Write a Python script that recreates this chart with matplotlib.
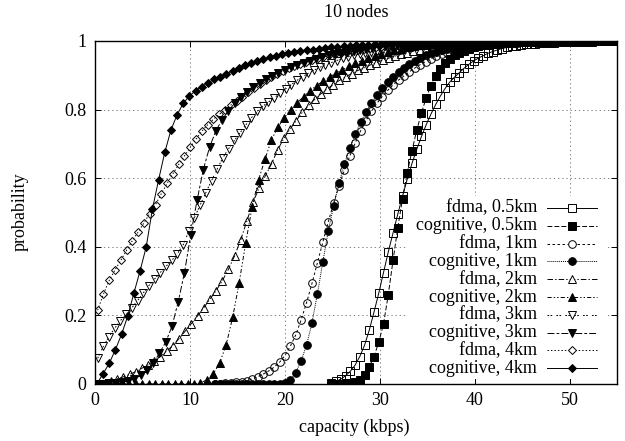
import matplotlib
matplotlib.use("Agg")
import matplotlib.pyplot as plt
from matplotlib.patches import Rectangle

plt.rcParams['font.family'] = ['Liberation Serif', 'DejaVu Serif']
plt.rcParams['lines.scale_dashes'] = False

# ---------------- data ----------------
x_fdma_05 = [24.9, 25.4, 25.9, 26.4, 26.9, 27.4, 27.9, 28.4, 28.9, 29.4, 29.9, 30.4, 30.9, 31.4,
             31.9, 32.4, 32.9, 33.4, 33.9, 34.4, 34.9, 35.4, 35.9, 36.4, 36.9, 37.4, 37.9, 38.4,
             38.9, 39.4, 39.9, 40.4, 40.9, 41.4, 41.9, 42.4, 42.9, 43.4, 43.9, 44.4, 44.9, 45.4,
             45.9, 46.4, 46.9, 47.4, 47.9, 48.4, 48.9, 49.4, 49.9, 50.4, 50.9, 51.4, 51.9, 52.4,
             52.9, 53.4, 53.9, 54.4, 54.9]
y_fdma_05 = [0.003, 0.008, 0.014, 0.024, 0.037, 0.055, 0.08, 0.113, 0.157, 0.21, 0.265, 0.325,
             0.385, 0.44, 0.495, 0.548, 0.597, 0.643, 0.684, 0.722, 0.756, 0.787, 0.815, 0.84,
             0.862, 0.881, 0.895, 0.908, 0.921, 0.932, 0.942, 0.95, 0.957, 0.964, 0.969, 0.974,
             0.978, 0.981, 0.984, 0.986, 0.988, 0.99, 0.991, 0.992, 0.993, 0.994, 0.995, 0.995,
             0.996, 0.996, 0.997, 0.997, 0.997, 0.998, 0.998, 0.998, 0.999, 0.999, 0.999, 0.999, 1.0]

x_cog_05 = list(x_fdma_05)
y_cog_05 = [0.0, 0.0, 0.001, 0.002, 0.004, 0.007, 0.013, 0.027, 0.05, 0.08, 0.122, 0.175, 0.26,
            0.36, 0.455, 0.54, 0.615, 0.68, 0.74, 0.79, 0.835, 0.87, 0.897, 0.918, 0.935, 0.948,
            0.958, 0.966, 0.972, 0.977, 0.981, 0.984, 0.987, 0.989, 0.991, 0.992, 0.993, 0.994,
            0.995, 0.996, 0.996, 0.997, 0.997, 0.998, 0.998, 0.998, 0.998, 0.999, 0.999, 0.999,
            0.999, 0.999, 1.0, 1.0, 1.0, 1.0, 1.0, 1.0, 1.0, 1.0, 1.0]

x_fdma_1 = [12.6, 13.17, 13.74, 14.31, 14.88, 15.45, 16.02, 16.59, 17.16, 17.73, 18.3, 18.87,
            19.44, 20.01, 20.58, 21.15, 21.72, 22.29, 22.86, 23.43, 24.0, 24.57, 25.14, 25.71,
            26.28, 26.85, 27.42, 27.99, 28.56, 29.13, 29.7, 30.27, 30.84, 31.41, 31.98, 32.55,
            33.12, 33.69, 34.26, 34.83, 35.4, 35.97, 36.54, 37.11, 37.68, 38.25, 38.82, 39.39,
            39.96, 40.53, 41.1, 41.67, 42.24, 42.81, 43.38, 43.95, 44.52, 45.09, 45.66, 46.23,
            46.8, 47.37, 47.94, 48.51, 49.08, 49.65, 50.22, 50.79, 51.36, 51.93, 52.5, 53.07,
            53.64, 54.21, 54.78]
y_fdma_1 = [0.0, 0.001, 0.002, 0.003, 0.005, 0.007, 0.01, 0.015, 0.021, 0.029, 0.038, 0.049,
            0.063, 0.083, 0.11, 0.143, 0.187, 0.237, 0.293, 0.353, 0.413, 0.472, 0.527, 0.578,
            0.623, 0.665, 0.703, 0.738, 0.768, 0.795, 0.818, 0.838, 0.856, 0.872, 0.886, 0.898,
            0.91, 0.921, 0.931, 0.94, 0.948, 0.955, 0.961, 0.966, 0.971, 0.975, 0.978, 0.981,
            0.984, 0.986, 0.988, 0.99, 0.991, 0.992, 0.993, 0.994, 0.995, 0.996, 0.996, 0.997,
            0.997, 0.998, 0.998, 0.998, 0.999, 0.999, 0.999, 0.999, 1.0, 1.0, 1.0, 1.0,
            1.0, 1.0, 1.0]

x_cog_1 = list(x_fdma_1)
y_cog_1 = [0.0, 0.0, 0.0, 0.0, 0.0, 0.0, 0.0, 0.0, 0.0, 0.0, 0.0, 0.0,
           0.0, 0.003, 0.012, 0.033, 0.068, 0.113, 0.178, 0.262, 0.355, 0.445, 0.52, 0.585,
           0.64, 0.688, 0.728, 0.763, 0.793, 0.819, 0.842, 0.862, 0.88, 0.896, 0.91, 0.922,
           0.933, 0.943, 0.951, 0.958, 0.964, 0.969, 0.974, 0.978, 0.981, 0.984, 0.986, 0.988,
           0.99, 0.991, 0.992, 0.993, 0.994, 0.995, 0.996, 0.996, 0.997, 0.997, 0.998, 0.998,
           0.998, 0.999, 0.999, 0.999, 0.999, 1.0, 1.0, 1.0, 1.0, 1.0, 1.0, 1.0,
           1.0, 1.0, 1.0]

x_fdma_2 = [0.4, 1.05, 1.7, 2.35, 3.0, 3.65, 4.3, 4.95, 5.6, 6.25, 6.9, 7.55, 8.2, 8.85, 9.5,
            10.15, 10.8, 11.45, 12.1, 12.75, 13.4, 14.05, 14.7, 15.35, 16.0, 16.65, 17.3, 17.95,
            18.6, 19.25, 19.9, 20.55, 21.2, 21.85, 22.5, 23.15, 23.8, 24.45, 25.1, 25.75, 26.4,
            27.05, 27.7, 28.35, 29.0, 29.65, 30.3, 30.95, 31.6, 32.25, 32.9, 33.55, 34.2, 34.85,
            35.5, 36.15, 36.8, 37.45, 38.1, 38.75, 39.4, 40.05, 40.7, 41.35, 42.0, 42.65, 43.3,
            43.95, 44.6, 45.25, 45.9, 46.55, 47.2, 47.85, 48.5, 49.15, 49.8, 50.45, 51.1, 51.75,
            52.4, 53.05, 53.7, 54.35, 55.0]
y_fdma_2 = [0.0, 0.003, 0.009, 0.015, 0.021, 0.028, 0.036, 0.046, 0.056, 0.068, 0.08, 0.096,
            0.112, 0.132, 0.154, 0.176, 0.198, 0.222, 0.247, 0.272, 0.3, 0.334, 0.373, 0.42,
            0.475, 0.53, 0.572, 0.607, 0.642, 0.683, 0.716, 0.743, 0.768, 0.792, 0.812, 0.83,
            0.846, 0.86, 0.873, 0.885, 0.895, 0.905, 0.914, 0.922, 0.93, 0.937, 0.944, 0.95,
            0.956, 0.961, 0.966, 0.97, 0.974, 0.978, 0.981, 0.984, 0.986, 0.988, 0.99, 0.991,
            0.992, 0.993, 0.994, 0.995, 0.996, 0.996, 0.997, 0.997, 0.998, 0.998, 0.998, 0.999,
            0.999, 0.999, 0.999, 0.999, 1.0, 1.0, 1.0, 1.0, 1.0, 1.0, 1.0, 1.0, 1.0]

x_cog_2 = [0.23, 0.91, 1.59, 2.27, 2.95, 3.63, 4.31, 4.99, 5.67, 6.35, 7.03, 7.71, 8.39, 9.07,
           9.75, 10.43, 11.11, 11.79, 12.47, 13.15, 13.83, 14.51, 15.19, 15.87, 16.55, 17.23,
           17.91, 18.59, 19.27, 19.95, 20.63, 21.31, 21.99, 22.67, 23.35, 24.03, 24.71, 25.39,
           26.07, 26.75, 27.43, 28.11, 28.79, 29.47, 30.15, 30.83, 31.51, 32.19, 32.87, 33.55,
           34.23, 34.91, 35.59, 36.27, 36.95, 37.63, 38.31, 38.99, 39.67, 40.35, 41.03, 41.71,
           42.39, 43.07, 43.75, 44.43, 45.11, 45.79, 46.47, 47.15, 47.83, 48.51, 49.19, 49.87,
           50.55, 51.23, 51.91, 52.59, 53.27, 53.95, 54.63]
y_cog_2 = [0.0, 0.0, 0.0, 0.0, 0.0, 0.0, 0.0, 0.0, 0.0, 0.0, 0.0, 0.0, 0.0, 0.0, 0.0, 0.0,
           0.003, 0.012, 0.03, 0.062, 0.115, 0.195, 0.295, 0.41, 0.515, 0.595, 0.655, 0.712,
           0.748, 0.776, 0.8, 0.82, 0.838, 0.855, 0.87, 0.883, 0.895, 0.906, 0.916, 0.926,
           0.935, 0.943, 0.95, 0.957, 0.963, 0.968, 0.973, 0.977, 0.981, 0.984, 0.987, 0.989,
           0.991, 0.992, 0.993, 0.994, 0.995, 0.996, 0.996, 0.997, 0.997, 0.998, 0.998, 0.998,
           0.999, 0.999, 0.999, 0.999, 0.999, 1.0, 1.0, 1.0, 1.0, 1.0, 1.0, 1.0, 1.0, 1.0,
           1.0, 1.0, 1.0]

x_fdma_3 = [0.28, 0.88, 1.48, 2.08, 2.68, 3.28, 3.88, 4.48, 5.08, 5.68, 6.28, 6.88, 7.48, 8.08,
            8.68, 9.28, 9.88, 10.48, 11.08, 11.68, 12.28, 12.88, 13.48, 14.08, 14.68, 15.28,
            15.88, 16.48, 17.08, 17.68, 18.28, 18.88, 19.48, 20.08, 20.68, 21.28, 21.88, 22.48,
            23.08, 23.68, 24.28, 24.88, 25.48, 26.08, 26.68, 27.28, 27.88, 28.48, 29.08, 29.68,
            30.28, 30.88, 31.48, 32.08, 32.68, 33.28, 33.88, 34.48, 35.08, 35.68, 36.28, 36.88,
            37.48, 38.08, 38.68, 39.28, 39.88, 40.48, 41.08, 41.68, 42.28, 42.88, 43.48, 44.08,
            44.68, 45.28, 45.88, 46.48, 47.08, 47.68, 48.28, 48.88, 49.48, 50.08, 50.68, 51.28,
            51.88, 52.48, 53.08, 53.68, 54.28, 54.88]
y_fdma_3 = [0.075, 0.11, 0.138, 0.163, 0.185, 0.203, 0.222, 0.243, 0.265, 0.287, 0.306, 0.325,
            0.343, 0.36, 0.38, 0.405, 0.445, 0.485, 0.522, 0.558, 0.593, 0.627, 0.66, 0.686,
            0.71, 0.732, 0.755, 0.776, 0.795, 0.81, 0.822, 0.834, 0.847, 0.86, 0.873, 0.885,
            0.896, 0.906, 0.915, 0.923, 0.93, 0.937, 0.943, 0.949, 0.954, 0.958, 0.962, 0.966,
            0.969, 0.972, 0.975, 0.977, 0.979, 0.981, 0.983, 0.985, 0.986, 0.987, 0.988, 0.989,
            0.99, 0.991, 0.992, 0.993, 0.993, 0.994, 0.994, 0.995, 0.995, 0.996, 0.996, 0.996,
            0.997, 0.997, 0.997, 0.998, 0.998, 0.998, 0.998, 0.999, 0.999, 0.999, 0.999, 0.999,
            1.0, 1.0, 1.0, 1.0, 1.0, 1.0, 1.0, 1.0]

x_cog_3 = [0.19, 0.85, 1.51, 2.17, 2.83, 3.49, 4.15, 4.81, 5.47, 6.13, 6.79, 7.45, 8.11, 8.77,
           9.43, 10.09, 10.75, 11.41, 12.07, 12.73, 13.39, 14.05, 14.71, 15.37, 16.03, 16.69,
           17.35, 18.01, 18.67, 19.33, 19.99, 20.65, 21.31, 21.97, 22.63, 23.29, 23.95, 24.61,
           25.27, 25.93, 26.59, 27.25, 27.91, 28.57, 29.23, 29.89, 30.55, 31.21, 31.87, 32.53,
           33.19, 33.85, 34.51, 35.17, 35.83, 36.49, 37.15, 37.81, 38.47, 39.13, 39.79, 40.45,
           41.11, 41.77, 42.43, 43.09, 43.75, 44.41, 45.07, 45.73, 46.39, 47.05, 47.71, 48.37,
           49.03, 49.69, 50.35, 51.01, 51.67, 52.33, 52.99, 53.65, 54.31, 54.97]
y_cog_3 = [0.0, 0.0, 0.002, 0.004, 0.006, 0.009, 0.015, 0.025, 0.04, 0.06, 0.09, 0.122,
           0.168, 0.24, 0.325, 0.435, 0.535, 0.625, 0.69, 0.738, 0.77, 0.797, 0.818, 0.836,
           0.852, 0.866, 0.878, 0.889, 0.899, 0.908, 0.916, 0.924, 0.931, 0.937, 0.943, 0.948,
           0.953, 0.958, 0.962, 0.966, 0.969, 0.972, 0.975, 0.978, 0.98, 0.982, 0.984, 0.986,
           0.987, 0.988, 0.989, 0.99, 0.991, 0.992, 0.993, 0.994, 0.994, 0.995, 0.995, 0.996,
           0.996, 0.997, 0.997, 0.997, 0.998, 0.998, 0.998, 0.998, 0.999, 0.999, 0.999, 0.999,
           0.999, 0.999, 1.0, 1.0, 1.0, 1.0, 1.0, 1.0, 1.0, 1.0, 1.0, 1.0]

x_fdma_4 = [0.28, 0.89, 1.5, 2.11, 2.72, 3.33, 3.94, 4.55, 5.16, 5.77, 6.38, 6.99, 7.6, 8.21,
            8.82, 9.43, 10.04, 10.65, 11.26, 11.87, 12.48, 13.09, 13.7, 14.31, 14.92, 15.53,
            16.14, 16.75, 17.36, 17.97, 18.58, 19.19, 19.8, 20.41, 21.02, 21.63, 22.24, 22.85,
            23.46, 24.07, 24.68, 25.29, 25.9, 26.51, 27.12, 27.73, 28.34, 28.95, 29.56, 30.17,
            30.78, 31.39, 32.0, 32.61, 33.22, 33.83, 34.44, 35.05, 35.66, 36.27, 36.88, 37.49,
            38.1, 38.71, 39.32, 39.93, 40.54, 41.15, 41.76, 42.37, 42.98, 43.59, 44.2, 44.81,
            45.42, 46.03, 46.64, 47.25, 47.86, 48.47, 49.08, 49.69, 50.3, 50.91, 51.52, 52.13,
            52.74, 53.35, 53.96, 54.57]
y_fdma_4 = [0.215, 0.262, 0.302, 0.333, 0.36, 0.39, 0.418, 0.443, 0.47, 0.497, 0.523, 0.555,
            0.585, 0.613, 0.64, 0.665, 0.69, 0.714, 0.737, 0.756, 0.772, 0.786, 0.8, 0.813,
            0.826, 0.838, 0.851, 0.864, 0.875, 0.886, 0.896, 0.905, 0.913, 0.92, 0.927, 0.933,
            0.939, 0.944, 0.949, 0.954, 0.958, 0.962, 0.966, 0.969, 0.972, 0.975, 0.977, 0.979,
            0.981, 0.983, 0.985, 0.986, 0.988, 0.989, 0.99, 0.991, 0.992, 0.993, 0.993, 0.994,
            0.994, 0.995, 0.995, 0.996, 0.996, 0.996, 0.997, 0.997, 0.997, 0.997, 0.998, 0.998,
            0.998, 0.998, 0.998, 0.999, 0.999, 0.999, 0.999, 0.999, 0.999, 0.999, 1.0, 1.0,
            1.0, 1.0, 1.0, 1.0, 1.0, 1.0]

x_cog_4 = [0.2, 0.85, 1.5, 2.15, 2.8, 3.45, 4.1, 4.75, 5.4, 6.05, 6.7, 7.35, 8.0, 8.65, 9.3,
           9.95, 10.6, 11.25, 11.9, 12.55, 13.2, 13.85, 14.5, 15.15, 15.8, 16.45, 17.1, 17.75,
           18.4, 19.05, 19.7, 20.35, 21.0, 21.65, 22.3, 22.95, 23.6, 24.25, 24.9, 25.55, 26.2,
           26.85, 27.5, 28.15, 28.8, 29.45, 30.1, 30.75, 31.4, 32.05, 32.7, 33.35, 34.0, 34.65,
           35.3, 35.95, 36.6, 37.25, 37.9, 38.55, 39.2, 39.85, 40.5, 41.15, 41.8, 42.45, 43.1,
           43.75, 44.4, 45.05, 45.7, 46.35, 47.0, 47.65, 48.3, 48.95, 49.6, 50.25, 50.9, 51.55,
           52.2, 52.85, 53.5, 54.15, 54.8]
y_cog_4 = [0.0, 0.03, 0.06, 0.1, 0.145, 0.198, 0.265, 0.33, 0.4, 0.51, 0.595, 0.675, 0.74,
           0.785, 0.818, 0.84, 0.855, 0.867, 0.878, 0.888, 0.896, 0.905, 0.913, 0.922, 0.93,
           0.937, 0.942, 0.947, 0.952, 0.957, 0.961, 0.964, 0.967, 0.97, 0.973, 0.975, 0.977,
           0.979, 0.981, 0.983, 0.984, 0.985, 0.987, 0.988, 0.989, 0.99, 0.991, 0.992, 0.993,
           0.993, 0.994, 0.994, 0.995, 0.995, 0.996, 0.996, 0.996, 0.997, 0.997, 0.997, 0.997,
           0.998, 0.998, 0.998, 0.998, 0.998, 0.998, 0.998, 0.998, 0.998, 0.998, 0.999, 0.999,
           0.999, 0.999, 0.999, 0.999, 0.999, 0.999, 1.0, 1.0, 1.0, 1.0, 1.0, 1.0]

labels = ["fdma, 0.5km", "cognitive, 0.5km", "fdma, 1km", "cognitive, 1km",
          "fdma, 2km", "cognitive, 2km", "fdma, 3km", "cognitive, 3km",
          "fdma, 4km", "cognitive, 4km"]
xs = [x_fdma_05, x_cog_05, x_fdma_1, x_cog_1, x_fdma_2, x_cog_2, x_fdma_3, x_cog_3, x_fdma_4, x_cog_4]
ys = [y_fdma_05, y_cog_05, y_fdma_1, y_cog_1, y_fdma_2, y_cog_2, y_fdma_3, y_cog_3, y_fdma_4, y_cog_4]

for xx, yy, lab in zip(xs, ys, labels):
    assert len(xx) == len(yy), (lab, len(xx), len(yy))

# gnuplot-ish styles: (marker, size, filled, dashes)
styles = [
    ('s', 5.5, False, None),
    ('s', 5.5, True, (3.5, 1.5)),
    ('o', 5.5, False, (1.8, 1.8)),
    ('o', 5.5, True, (0.7, 0.7)),
    ('^', 6.0, False, (4.0, 1.5, 1.0, 1.5)),
    ('^', 5.5, True, (3.0, 1.5, 1.0, 1.5, 1.0, 1.5)),
    ('v', 6.0, False, (1.2, 1.0, 1.2, 3.0)),
    ('v', 5.5, True, (5.0, 1.5, 2.0, 1.5)),
    ('D', 4.5, False, (1.0, 1.5)),
    ('D', 4.5, True, None),
]

FS = 13

# ---------------- figure ----------------
fig = plt.figure(figsize=(6.25, 4.41), dpi=100)
ax = fig.add_axes([0.152, 0.1293, 0.8352, 0.7778])

for i, (xx, yy) in enumerate(zip(xs, ys)):
    m, ms, filled, dashes = styles[i]
    line, = ax.plot(xx, yy, color='black', lw=0.7, marker=m, markersize=ms,
                    markerfacecolor='black' if filled else 'none',
                    markeredgecolor='black', markeredgewidth=0.7, zorder=3 + i * 0.1)
    if dashes is not None:
        line.set_dashes(dashes)

ax.set_xlim(0, 55)
ax.set_ylim(0, 1)
ax.set_xticks([0, 10, 20, 30, 40, 50])
ax.set_yticks([0, 0.2, 0.4, 0.6, 0.8, 1])
ax.set_yticklabels(['0', '0.2', '0.4', '0.6', '0.8', '1'])
ax.tick_params(direction='in', length=4, width=0.7, top=True, right=True,
               labelsize=FS, pad=6)
ax.grid(True, color='#555555', lw=0.5, linestyle=(0, (1, 2)))
for sp in ax.spines.values():
    sp.set_linewidth(1.0)

# opaque key box (gnuplot style) with the samples
ax.add_patch(Rectangle((0.6, 0.015), 0.38, 0.532, transform=ax.transAxes,
                       facecolor='white', edgecolor='none', zorder=10))
y0 = 0.513
dy = 0.0519
for i, lab in enumerate(labels):
    m, ms, filled, dashes = styles[i]
    yy = y0 - i * dy
    ax.text(0.847, yy, lab, transform=ax.transAxes, ha='right', va='center',
            fontsize=FS, zorder=11)
    ln, = ax.plot([0.866, 0.962], [yy, yy], transform=ax.transAxes, color='black',
                  lw=0.7, zorder=11, clip_on=False)
    if dashes is not None:
        ln.set_dashes(dashes)
    ax.plot([0.914], [yy], transform=ax.transAxes, marker=m, markersize=ms,
            markerfacecolor='black' if filled else 'white', markeredgecolor='black',
            markeredgewidth=0.7, linestyle='none', zorder=12, clip_on=False)

fig.text(0.5696, 0.972, "10 nodes", ha='center', va='center', fontsize=FS)
fig.text(0.5664, 0.032, "capacity (kbps)", ha='center', va='center', fontsize=FS)
fig.text(0.032, 0.52, "probability", ha='center', va='center', rotation=90, fontsize=FS)

fig.savefig("out.png", dpi=100)
